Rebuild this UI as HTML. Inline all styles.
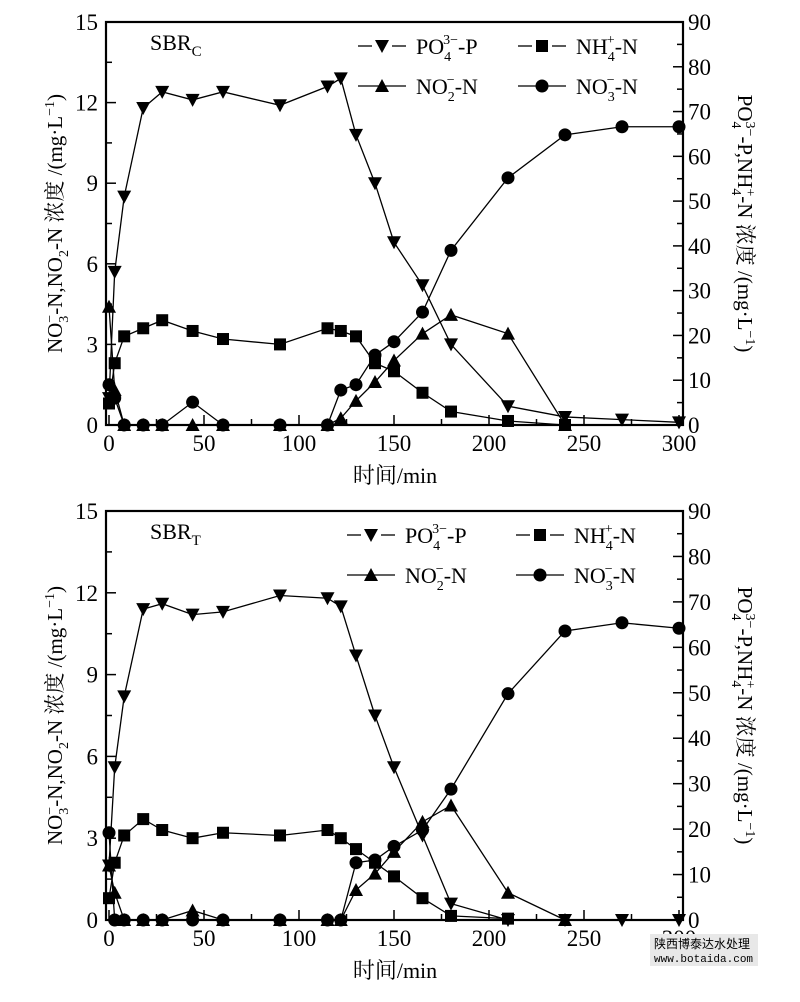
<!DOCTYPE html>
<html><head><meta charset="utf-8"><style>
body{margin:0;background:#fff;}
svg text{font-family:"Liberation Serif","Noto Serif CJK SC",serif;fill:#000;}
</style></head><body>
<svg id="s" width="800" height="997" xmlns="http://www.w3.org/2000/svg"></svg>
<script>
const s=document.getElementById('s');let h='';
function plot(top,bot,name,sub,data,leg){
 const X0=109,X1=679,L=106,R=683;
 const x=t=>X0+(X1-X0)*t/300, y=v=>bot-(bot-top)*v/15;
 h+=`<rect x="${L}" y="${top}" width="${R-L}" height="${bot-top}" fill="none" stroke="#000" stroke-width="2.2"/>`;
 for(let v=0;v<=15;v+=1.5){const yy=y(v);const maj=(v%3===0);h+=`<line x1="${L}" x2="${L+(maj?10:6)}" y1="${yy}" y2="${yy}" stroke="#000" stroke-width="1.5"/>`;if(maj)h+=`<text x="${L-8}" y="${yy+8}" font-size="23" text-anchor="end">${v}</text>`;}
 for(let v=0;v<=90;v+=5){const yy=y(v/6);const maj=(v%10===0);h+=`<line x1="${R}" x2="${R-(maj?10:6)}" y1="${yy}" y2="${yy}" stroke="#000" stroke-width="1.5"/>`;if(maj)h+=`<text x="${R+5}" y="${yy+8}" font-size="23">${v}</text>`;}
 for(let t=0;t<=300;t+=25){const xx=x(t);const maj=(t%50===0);h+=`<line x1="${xx}" x2="${xx}" y1="${bot}" y2="${bot-(maj?10:6)}" stroke="#000" stroke-width="1.5"/>`;if(maj)h+=`<text x="${xx}" y="${bot+26}" font-size="23" text-anchor="middle">${t}</text>`;}
 h+=`<text x="395" y="${bot+58}" font-size="22" text-anchor="middle">时间/min</text>`;
 h+=`<text x="150" y="${top+28}" font-size="22">SBR<tspan font-size="15" dy="6">${sub}</tspan></text>`;
 const my=(top+bot)/2;
 h+=`<text transform="translate(62,${my}) rotate(-90)" font-size="21" text-anchor="middle">NO<tspan font-size="14" dy="6">3</tspan><tspan font-size="14" dx="-7" dy="-14">−</tspan><tspan dy="8">-N,NO</tspan><tspan font-size="14" dy="6">2</tspan><tspan dy="-6">-N 浓度 /(mg·L</tspan><tspan font-size="14" dy="-8">−1</tspan><tspan dy="8">)</tspan></text>`;
 h+=`<text transform="translate(738,${my}) rotate(90)" font-size="21" text-anchor="middle">PO<tspan font-size="14" dy="6">4</tspan><tspan font-size="14" dx="-7" dy="-14">3−</tspan><tspan dy="8">-P,NH</tspan><tspan font-size="14" dy="6">4</tspan><tspan font-size="14" dx="-7" dy="-14">+</tspan><tspan dy="8">-N 浓度 /(mg·L</tspan><tspan font-size="14" dy="-8">−1</tspan><tspan dy="8">)</tspan></text>`;
 const mk=(k,cx,cy)=>{if(k==='d')return `<polygon points="${cx-7},${cy-6} ${cx+7},${cy-6} ${cx},${cy+7}"/>`;if(k==='u')return `<polygon points="${cx-7},${cy+6} ${cx+7},${cy+6} ${cx},${cy-7}"/>`;if(k==='s')return `<rect x="${cx-6}" y="${cy-6}" width="12" height="12"/>`;return `<circle cx="${cx}" cy="${cy}" r="6.5"/>`;};
 for(const [k,pts] of data){h+=`<polyline fill="none" stroke="#000" stroke-width="1.3" points="${pts.map(p=>x(p[0])+','+y(p[1])).join(' ')}"/>`;for(const p of pts)h+=mk(k,x(p[0]),y(p[1]));}
 const ly1=top+24, ly2=top+64;
 const items=[['d',leg[0],ly1,'PO<tspan font-size="14" dy="7">4</tspan><tspan font-size="14" dx="-8" dy="-17">3−</tspan><tspan dy="10">-P</tspan>'],['s',leg[1],ly1,'NH<tspan font-size="14" dy="7">4</tspan><tspan font-size="14" dx="-8" dy="-17">+</tspan><tspan dy="10">-N</tspan>'],['u',leg[0],ly2,'NO<tspan font-size="14" dy="7">2</tspan><tspan font-size="14" dx="-8" dy="-17">−</tspan><tspan dy="10">-N</tspan>'],['c',leg[1],ly2,'NO<tspan font-size="14" dy="7">3</tspan><tspan font-size="14" dx="-8" dy="-17">−</tspan><tspan dy="10">-N</tspan>']];
 for(const [k,lx,ly,t] of items){
  if(k==='d'||k==='s'){h+=`<line x1="${lx}" x2="${lx+14}" y1="${ly}" y2="${ly}" stroke="#000" stroke-width="1.3"/><line x1="${lx+34}" x2="${lx+48}" y1="${ly}" y2="${ly}" stroke="#000" stroke-width="1.3"/>`;}
  else h+=`<line x1="${lx}" x2="${lx+48}" y1="${ly}" y2="${ly}" stroke="#000" stroke-width="1.3"/>`;
  h+=mk(k,lx+24,ly);h+=`<text x="${lx+58}" y="${ly+8}" font-size="22">${t}</text>`;}
}
plot(22,425,'C','C',[
['d',[[0,1.0],[3,5.7],[8,8.5],[18,11.8],[28,12.4],[44,12.1],[60,12.4],[90,11.9],[115,12.6],[122,12.9],[130,10.8],[140,9.0],[150,6.8],[165,5.2],[180,3.0],[210,0.7],[240,0.3],[270,0.2],[300,0.1]]],
['s',[[0,0.8],[3,2.3],[8,3.3],[18,3.6],[28,3.9],[44,3.5],[60,3.2],[90,3.0],[115,3.6],[122,3.5],[130,3.3],[140,2.3],[150,2.0],[165,1.2],[180,0.5],[210,0.15],[240,0]]],
['u',[[0,4.4],[3,1.3],[8,0],[18,0],[28,0],[44,0],[60,0],[90,0],[115,0],[122,0.25],[130,0.9],[140,1.6],[150,2.4],[165,3.4],[180,4.1],[210,3.4],[240,0]]],
['c',[[0,1.5],[3,1.0],[8,0],[18,0],[28,0],[44,0.85],[60,0],[90,0],[115,0],[122,1.3],[130,1.5],[140,2.6],[150,3.1],[165,4.2],[180,6.5],[210,9.2],[240,10.8],[270,11.1],[300,11.1]]]
],[358,518]);
plot(511,920,'T','T',[
['d',[[0,2.0],[3,5.6],[8,8.2],[18,11.4],[28,11.6],[44,11.2],[60,11.3],[90,11.9],[115,11.8],[122,11.5],[130,9.7],[140,7.5],[150,5.6],[165,3.1],[180,0.6],[210,0],[240,0],[270,0],[300,0]]],
['s',[[0,0.8],[3,2.1],[8,3.1],[18,3.7],[28,3.3],[44,3.0],[60,3.2],[90,3.1],[115,3.3],[122,3.0],[130,2.6],[140,2.1],[150,1.6],[165,0.8],[180,0.15],[210,0.05]]],
['u',[[0,2.0],[3,1.0],[8,0],[18,0],[28,0],[44,0.35],[60,0],[90,0],[115,0],[122,0],[130,1.1],[140,1.7],[150,2.5],[165,3.6],[180,4.2],[210,1.0],[240,0]]],
['c',[[0,3.2],[3,0],[8,0],[18,0],[28,0],[44,0],[60,0],[90,0],[115,0],[122,0],[130,2.1],[140,2.2],[150,2.7],[165,3.3],[180,4.8],[210,8.3],[240,10.6],[270,10.9],[300,10.7]]]
],[347,516]);
h+=`<rect x="650" y="934" width="108" height="32" fill="#e8e8e8"/><text x="654" y="948" font-size="12" style="font-family:'Liberation Mono','Noto Sans CJK SC',monospace">陕西博泰达水处理</text><text x="654" y="962" font-size="11" style="font-family:'Liberation Mono',monospace">www.botaida.com</text>`;
s.innerHTML=h;
</script>
</body></html>
